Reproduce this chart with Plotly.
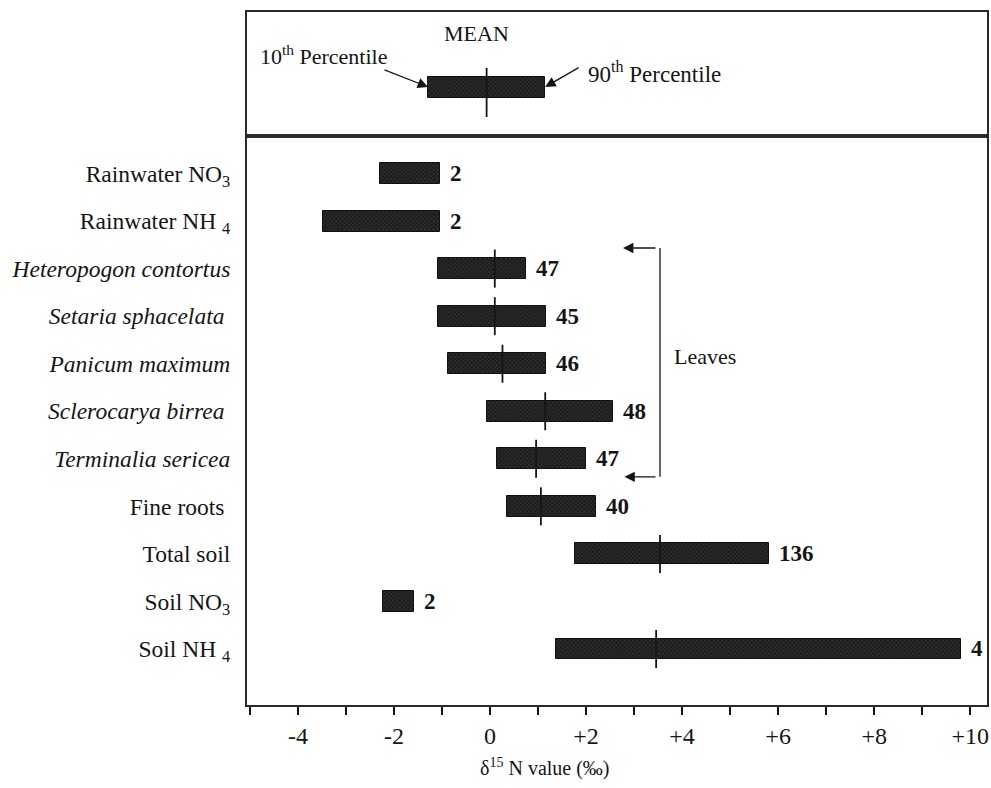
import plotly.graph_objects as go

# ---- data ----
categories = [
    "Rainwater NO<sub>3</sub>",
    "Rainwater NH <sub>4</sub>",
    "<i>Heteropogon contortus</i>",
    "<i>Setaria sphacelata</i> ",
    "<i>Panicum maximum</i>",
    "<i>Sclerocarya birrea</i> ",
    "<i>Terminalia sericea</i>",
    "Fine roots ",
    "Total soil",
    "Soil NO<sub>3</sub>",
    "Soil NH <sub>4</sub>",
]
p10 = [-2.29, -3.47, -1.08, -1.08, -0.87, -0.07, 0.15, 0.36, 1.76, -2.22, 1.38]
p90 = [-1.04, -1.04, 0.76, 1.17, 1.17, 2.57, 1.99, 2.20, 5.80, -1.58, 9.81]
means = [None, None, 0.10, 0.10, 0.26, 1.15, 0.96, 1.06, 3.54, None, 3.46]
counts = [2, 2, 47, 45, 46, 48, 47, 40, 136, 2, 4]

x_tickvals = [-4, -2, 0, 2, 4, 6, 8, 10]
x_ticktext = ["-4", "-2", "0", "+2", "+4", "+6", "+8", "+10"]

# legend (schematic) example values
leg_p10, leg_mean, leg_p90 = -1.29, -0.07, 1.15

FONT = "Liberation Serif, Times New Roman, serif"
INK = "#151515"
BAR_H = 0.44
MEAN_HALF = 0.40

rows = list(range(len(categories)))

fig = go.Figure()

bar_marker = dict(
    color="#262626",
    line=dict(color="#111111", width=1),
    pattern=dict(shape="x", fgcolor="#6e6e6e", bgcolor="#1c1c1c", size=3, solidity=0.25),
)

fig.add_trace(go.Bar(
    y=rows, x=[b - a for a, b in zip(p10, p90)], base=p10,
    orientation="h", width=BAR_H, marker=bar_marker,
    xaxis="x", yaxis="y", showlegend=False, hoverinfo="skip",
))

# mean lines
mx, my = [], []
for r, m in zip(rows, means):
    if m is None:
        continue
    mx += [m, m, None]
    my += [r - MEAN_HALF, r + MEAN_HALF, None]
fig.add_trace(go.Scatter(x=mx, y=my, mode="lines", line=dict(color=INK, width=1.8),
                         xaxis="x", yaxis="y", showlegend=False, hoverinfo="skip"))

# legend box schematic
fig.add_trace(go.Bar(
    y=[75], x=[leg_p90 - leg_p10], base=[leg_p10], orientation="h", width=21,
    marker=bar_marker, xaxis="x2", yaxis="y2", showlegend=False, hoverinfo="skip",
))
fig.add_trace(go.Scatter(x=[leg_mean, leg_mean], y=[56, 105], mode="lines",
                         line=dict(color=INK, width=1.8), xaxis="x2", yaxis="y2",
                         showlegend=False, hoverinfo="skip"))

annotations = []
for r, hi, n in zip(rows, p90, counts):
    annotations.append(dict(
        x=hi, y=r, xref="x", yref="y", text=f"<b>{n}</b>", showarrow=False,
        xanchor="left", yanchor="middle", xshift=8,
        font=dict(family=FONT, size=23, color=INK),
    ))

ARROW = dict(showarrow=True, arrowhead=2, arrowsize=1.6, arrowwidth=1.3, arrowcolor=INK)

# legend annotations
annotations += [
    dict(x=leg_mean, y=21, xref="x2", yref="y2", text="MEAN", showarrow=False,
         xanchor="center", yanchor="middle", xshift=-10, font=dict(family=FONT, size=22, color=INK)),
    dict(x=-2.1, y=43, xref="x2", yref="y2", text="10<sup>th</sup> Percentile", showarrow=False,
         xanchor="right", yanchor="middle", font=dict(family=FONT, size=22, color=INK)),
    dict(x=2.0, y=60, xref="x2", yref="y2", text="90<sup>th</sup> Percentile", showarrow=False,
         xanchor="left", yanchor="middle", font=dict(family=FONT, size=23, color=INK)),
    dict(x=leg_p10, y=75, xref="x2", yref="y2", ax=-2.29, ay=56, axref="x2", ayref="y2",
         text=" ", **ARROW),
    dict(x=leg_p90, y=75, xref="x2", yref="y2", ax=1.94, ay=53, axref="x2", ayref="y2",
         text=" ", **ARROW),
    # Leaves bracket arrows
    dict(x=2.77, y=1.567, xref="x", yref="y", ax=3.54, ay=1.567, axref="x", ayref="y",
         text=" ", **ARROW),
    dict(x=2.80, y=6.38, xref="x", yref="y", ax=3.54, ay=6.38, axref="x", ayref="y",
         text=" ", **ARROW),
    dict(x=3.78, y=3.84, xref="x", yref="y", text="Leaves", showarrow=False,
         xanchor="left", yanchor="middle", font=dict(family=FONT, size=22, color=INK)),
    # x axis title
    dict(x=0.4027, y=-0.0909, xref="paper", yref="paper", text="δ<sup>15</sup> N value (‰)",
         showarrow=False, xanchor="center", yanchor="middle",
         font=dict(family=FONT, size=20, color=INK)),
]

shapes = [
    dict(type="line", xref="x", yref="y", x0=3.54, x1=3.54, y0=1.567, y1=6.38,
         line=dict(color=INK, width=1.3)),
]

split = 569 / 693
frame = dict(color="#2a2a2a", width=2)
fig.update_layout(
    width=991, height=788,
    margin=dict(l=247, r=4, t=12, b=83, autoexpand=False),
    paper_bgcolor="white", plot_bgcolor="white",
    bargap=0, barmode="overlay",
    font=dict(family=FONT, size=24, color=INK),
    xaxis=dict(domain=[0, 1], anchor="y", range=[-5.06, 10.35], tickvals=x_tickvals,
               ticktext=x_ticktext, ticks="outside", ticklen=8, tickwidth=1.5, tickcolor=INK,
               minor=dict(tick0=0, dtick=1, ticks="outside", ticklen=8, tickwidth=1.5,
                          tickcolor=INK, showgrid=False),
               showgrid=False, zeroline=False, showline=True, mirror=True, linecolor=frame["color"],
               linewidth=frame["width"], tickfont=dict(family=FONT, size=24, color=INK),
               ticklabelstandoff=0, automargin=False),
    yaxis=dict(domain=[0, split], anchor="x", range=[11.178, -0.789], tickvals=rows,
               ticktext=categories, ticks="", showgrid=False, zeroline=False, showline=True,
               mirror=True, linecolor=frame["color"], linewidth=frame["width"],
               tickfont=dict(family=FONT, size=23.5, color=INK), ticklabelstandoff=10,
               automargin=False),
    xaxis2=dict(domain=[0, 1], anchor="y2", range=[-5.06, 10.35], showticklabels=False,
                ticks="", showgrid=False, zeroline=False, showline=True, mirror=True,
                linecolor=frame["color"], linewidth=frame["width"], automargin=False),
    yaxis2=dict(domain=[split, 1], anchor="x2", range=[124, 0], showticklabels=False,
                ticks="", showgrid=False, zeroline=False, showline=True, mirror=True,
                linecolor=frame["color"], linewidth=frame["width"], automargin=False),
    annotations=annotations,
    shapes=shapes,
)

# remove the default page margin so the 991x788 figure fills the window exactly
fig.write_html(
    "out.html",
    config={"displayModeBar": False},
    post_script="document.body.style.margin='0px';"
                "document.documentElement.style.overflow='hidden';",
)
